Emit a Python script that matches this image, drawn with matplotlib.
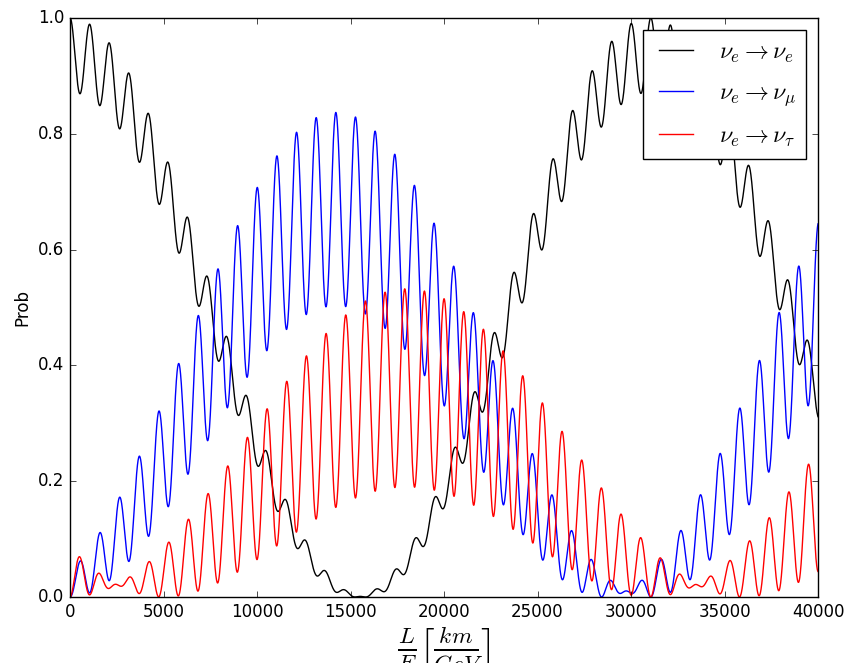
import numpy as np
import matplotlib
matplotlib.use("Agg")
from matplotlib import pyplot as plt

# oscillation parameters
theta12 = 45.0      # deg
theta13 = 10.5      # deg
theta23 = 35.0      # deg
delta_cp = 90.0     # deg
dm21 = 8.0e-5       # eV^2
dm31 = 2.395e-3     # eV^2

LE_max = 40000.0    # km/GeV
labels = [r'$\nu_e \rightarrow \nu_e$', r'$\nu_e \rightarrow \nu_\mu$', r'$\nu_e \rightarrow \nu_\tau$']
colors = ['black', 'blue', 'red']


def pmns(t12, t13, t23, d):
    s12, c12 = np.sin(t12), np.cos(t12)
    s13, c13 = np.sin(t13), np.cos(t13)
    s23, c23 = np.sin(t23), np.cos(t23)
    e = np.exp(1j * d)
    U = np.array([
        [c12 * c13, s12 * c13, s13 / e],
        [-s12 * c23 - c12 * s23 * s13 * e, c12 * c23 - s12 * s23 * s13 * e, s23 * c13],
        [s12 * s23 - c12 * c23 * s13 * e, -c12 * s23 - s12 * c23 * s13 * e, c23 * c13]])
    return U


def prob(LE, U, a, b):
    m2 = np.array([0.0, dm21, dm31])
    amp = np.zeros(len(LE), dtype=complex)
    for i in range(3):
        amp += np.conj(U[a, i]) * U[b, i] * np.exp(-1j * 2.534 * m2[i] * LE)
    return np.abs(amp) ** 2


plt.style.use('classic')
fig = plt.figure(figsize=(8.49, 6.63), dpi=100, facecolor='white')
ax = fig.add_axes([0.0825, 0.0995, 0.881, 0.8735])

LE = np.linspace(0, LE_max, 8001)
U = pmns(np.radians(theta12), np.radians(theta13), np.radians(theta23), np.radians(delta_cp))
for b in range(3):
    ax.plot(LE, prob(LE, U, 0, b), color=colors[b], label=labels[b])

ax.set_xlim(0, LE_max)
ax.set_ylim(0, 1)
ax.set_ylabel('Prob')
ax.set_xlabel(r'$\frac{L}{E}\left[\frac{km}{GeV}\right]$', fontsize=24, labelpad=3)
ax.legend(loc='upper right', fontsize='x-large', labelspacing=0.65, handlelength=2.0)

plt.savefig('out.png', dpi=100, facecolor='white')
